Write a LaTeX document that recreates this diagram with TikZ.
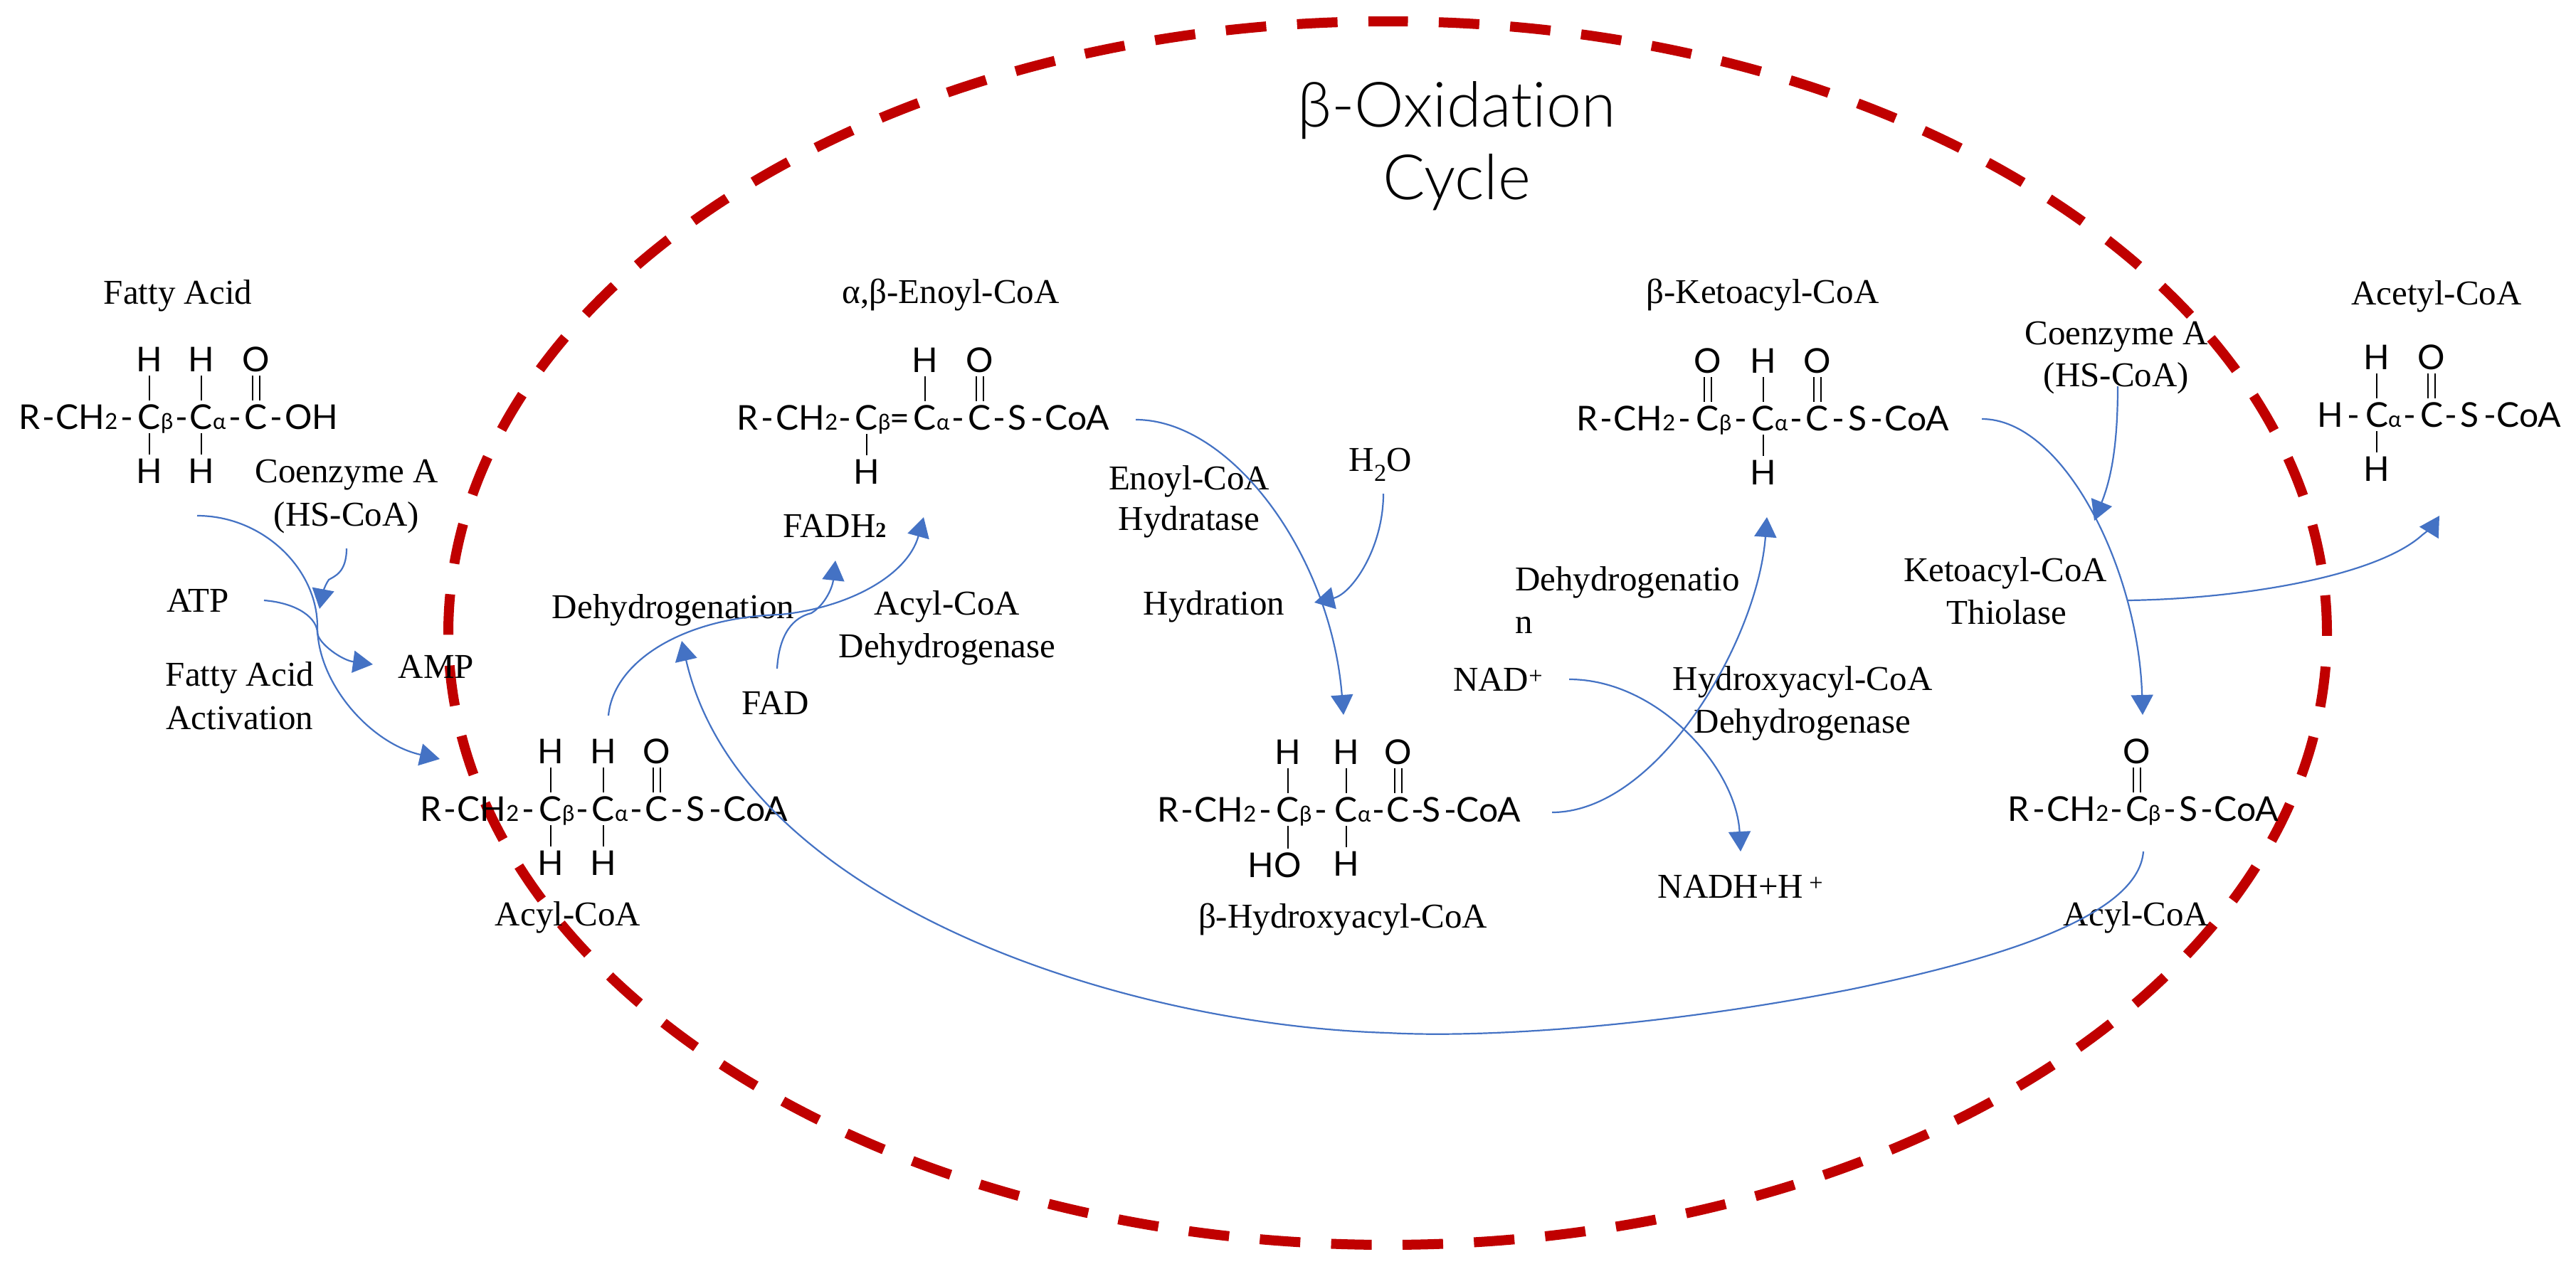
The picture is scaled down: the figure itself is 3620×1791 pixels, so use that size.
\documentclass[tikz,border=0pt]{standalone}
\usepackage{fontspec}
\usetikzlibrary{arrows.meta}
\setmainfont{Liberation Serif}
\newfontfamily\molfam{Lato}
\newfontfamily\titlefam[Ligatures=NoCommon]{Lato Light}
\newcommand{\molf}{\molfam\fontsize{48}{48}\selectfont}
\newcommand{\subf}[1]{{\molfam\fontsize{31}{31}\selectfont #1}}
\newcommand{\catom}[1]{C\smash{\rlap{\subf{#1}}}}
\definecolor{cycred}{HTML}{C00000}
\definecolor{arrblue}{HTML}{4472C4}
\tikzset{
  atom/.style={font=\molf, anchor=base, inner xsep=0pt, inner ysep=6pt, text height=34pt, text depth=0pt},
  bond/.style={line width=2.5pt, black},
  lab/.style={font=\fontsize{49}{49}\selectfont, anchor=base, inner sep=0pt},
  titletext/.style={font=\titlefam\fontsize{88}{88}\selectfont, anchor=base, inner sep=0pt},
  flow/.style={line width=2.2pt, arrblue, -{Triangle[length=28pt,width=31pt]}},
  cycle/.style={line width=14pt, cycred, dash pattern=on 57pt off 43.4pt, dash phase=28.5pt},
}
\newcommand{\tok}[3]{\node[atom] (#1) at (#2,0) {#3};}
\newcommand{\up}[3]{\node[atom] (#1) at (#2,-81) {#3};}
\newcommand{\down}[3]{\node[atom] (#1) at (#2,76) {#3};}
\newcommand{\sbond}[2]{\draw[bond] (#1.south) -- (#2.north);}
\newcommand{\dbond}[2]{\draw[bond] ([xshift=-5pt]#1.south) -- ([xshift=-5pt]#2.north); \draw[bond] ([xshift=5pt]#1.south) -- ([xshift=5pt]#2.north);}
\newcommand{\chainhead}{\tok{r}{0}{R}\tok{d1}{26}{-}\tok{ch}{80}{CH\subf{2}}\tok{d2}{136}{-}}
\begin{document}
\begin{tikzpicture}[x=1pt,y=-1pt]
\useasboundingbox (0,0) rectangle (3620,1791);
\fill[white] (0,0) rectangle (3620,1791);
% cycle
\draw[cycle] (1950,30) arc[start angle=-90,end angle=270,x radius=1320,y radius=860];
% title
\node[titletext] (t1) at (2047,178) {β-Oxidation};
\node[titletext] (t2) at (2047,280) {Cycle};
% M1 fatty acid
\begin{scope}[shift={(42,603)},name prefix=ma-]
\chainhead
\tok{cb}{168}{\catom{β}}\tok{d3}{213}{-}\tok{ca}{241}{\catom{α}}\tok{d4}{288}{-}\tok{c}{318}{C}\tok{d5}{346}{-}\tok{oh}{396}{OH}
\up{h1}{168}{H}\up{h2}{241}{H}\up{o}{318}{O}\down{h3}{168}{H}\down{h4}{241}{H}
\sbond{h1}{cb}\sbond{h2}{ca}\dbond{o}{c}\sbond{cb}{h3}\sbond{ca}{h4}
\end{scope}
% M2 enoyl
\begin{scope}[shift={(1051,604)},name prefix=mb-]
\tok{r}{0}{R}\tok{d1}{27}{-}\tok{ch}{83}{CH\subf{2}}\tok{d2}{136}{-}
\tok{cb}{167}{\catom{β}}\tok{d3}{213}{=}\tok{ca}{249}{\catom{α}}\tok{d4}{295}{-}\tok{c}{326}{C}\tok{d5}{353}{-}\tok{s}{379}{S}\tok{d6}{406}{-}\tok{coa}{463}{CoA}
\up{h1}{249}{H}\up{o}{326}{O}\down{h3}{167}{H}
\sbond{h1}{ca}\dbond{o}{c}\sbond{cb}{h3}
\end{scope}
% M3 acyl-CoA
\begin{scope}[shift={(606,1154)},name prefix=mc-]
\chainhead
\tok{cb}{168}{\catom{β}}\tok{d3}{212}{-}\tok{ca}{242}{\catom{α}}\tok{d4}{288}{-}\tok{c}{317}{C}\tok{d5}{345}{-}\tok{s}{372}{S}\tok{d6}{399}{-}\tok{coa}{456}{CoA}
\up{h1}{168}{H}\up{h2}{242}{H}\up{o}{317}{O}\down{h3}{168}{H}\down{h4}{242}{H}
\sbond{h1}{cb}\sbond{h2}{ca}\dbond{o}{c}\sbond{cb}{h3}\sbond{ca}{h4}
\end{scope}
% M4 hydroxy
\begin{scope}[shift={(1642,1155)},name prefix=md-]
\chainhead
\tok{cb}{168}{\catom{β}}\tok{d3}{214}{-}\tok{ca}{250}{\catom{α}}\tok{d4}{295}{-}\tok{c}{323}{C}\tok{d5}{350}{-}\tok{s}{369}{S}\tok{d6}{396}{-}\tok{coa}{450}{CoA}
\up{h1}{168}{H}\up{h2}{250}{H}\up{o}{323}{O}\node[atom] (ho) at (149,78) {HO};\down{h4}{250}{H}
\sbond{h1}{cb}\sbond{h2}{ca}\dbond{o}{c}\draw[bond] (cb.south) -- (cb.south |- ho.north);\sbond{ca}{h4}
\end{scope}
% M5 keto
\begin{scope}[shift={(2231,605)},name prefix=me-]
\chainhead
\tok{cb}{169}{\catom{β}}\tok{d3}{215}{-}\tok{ca}{247}{\catom{α}}\tok{d4}{293}{-}\tok{c}{323}{C}\tok{d5}{352}{-}\tok{s}{379}{S}\tok{d6}{406}{-}\tok{coa}{463}{CoA}
\up{o1}{169}{O}\up{h2}{247}{H}\up{o}{323}{O}\down{h4}{247}{H}
\dbond{o1}{cb}\sbond{h2}{ca}\dbond{o}{c}\sbond{ca}{h4}
\end{scope}
% M6 acetyl
\begin{scope}[shift={(3275,600)},name prefix=mf-]
\tok{h0}{0}{H}\tok{d1}{32}{-}\tok{ca}{65}{\catom{α}}\tok{d2}{111}{-}\tok{c}{142}{C}\tok{d3}{169}{-}\tok{s}{195}{S}\tok{d4}{224}{-}\tok{coa}{279}{CoA}
\up{h1}{65}{H}\up{o}{142}{O}\down{h2}{65}{H}
\sbond{h1}{ca}\dbond{o}{c}\sbond{ca}{h2}
\end{scope}
% M7 acyl-CoA short
\begin{scope}[shift={(2837,1154)},name prefix=mg-]
\tok{r}{0}{R}\tok{d1}{28}{-}\tok{ch}{83}{CH\subf{2}}\tok{d2}{137}{-}\tok{cb}{166}{\catom{β}}\tok{d3}{212}{-}\tok{s}{238}{S}\tok{d4}{264}{-}\tok{coa}{320}{CoA}
\up{o}{166}{O}
\dbond{o}{cb}
\end{scope}
% labels
\node[lab] (l1) at (250,427) {Fatty Acid};
\node[lab] (l2) at (487,678) {Coenzyme A};
\node[lab] (l3) at (487,739) {(HS-CoA)};
\node[lab] (l4) at (278,860) {ATP};
\node[lab] (l5) at (337,964) {Fatty Acid};
\node[lab] (l6) at (337,1025) {Activation};
\node[lab] (l7) at (613,953) {AMP};
\node[lab] (l8) at (946,869) {Dehydrogenation};
\node[lab] (l9) at (1173,755) {FADH{\fontsize{30}{30}\selectfont\bfseries 2}};
\node[lab] (l10) at (1090,1004) {FAD};
\node[lab] (l11) at (1331,864) {Acyl-CoA};
\node[lab] (l12) at (1331,924) {Dehydrogenase};
\node[lab] (l13) at (1336,426) {α,β-Enoyl-CoA};
\node[lab] (l14) at (798,1301) {Acyl-CoA};
\node[lab] (l15) at (2477,426) {β-Ketoacyl-CoA};
\node[lab] (l16) at (1671,688) {Enoyl-CoA};
\node[lab] (l17) at (1671,745) {Hydratase};
\node[lab] (l18) at (1940,662) {H\textsubscript{2}O};
\node[lab] (l19) at (1706,864) {Hydration};
\node[lab,anchor=base west] (l20) at (2129,830) {Dehydrogenatio};
\node[lab,anchor=base west] (l21) at (2129,890) {n};
\node[lab,anchor=base west] (l22) at (2042,971) {NAD\textsuperscript{+}};
\node[lab] (l23) at (2533,970) {Hydroxyacyl-CoA};
\node[lab] (l24) at (2533,1030) {Dehydrogenase};
\node[lab] (l25) at (2446,1262) {NADH+H\,\textsuperscript{+}};
\node[lab] (l26) at (1887,1304) {β-Hydroxyacyl-CoA};
\node[lab] (l27) at (2974,484) {Coenzyme A};
\node[lab] (l28) at (2974,543) {(HS-CoA)};
\node[lab] (l29) at (3424,428) {Acetyl-CoA};
\node[lab] (l30) at (2818,817) {Ketoacyl-CoA};
\node[lab] (l31) at (2820,877) {Thiolase};
\node[lab] (l32) at (3002,1301) {Acyl-CoA};
% connector ends
\coordinate (a1s) at (277,725); \coordinate (a1e) at (618,1067);
\coordinate (a2s) at (487,771); \coordinate (a2e) at (449,856);
\coordinate (a3s) at (371,844); \coordinate (a3e) at (524,934);
\coordinate (a4s) at (855,1006); \coordinate (a4e) at (1298,727);
\coordinate (a5s) at (1092,940); \coordinate (a5e) at (1174,788);
\coordinate (a6s) at (3012,1197); \coordinate (a6e) at (958,901);
\coordinate (a7s) at (1596,590); \coordinate (a7e) at (1888,1005);
\coordinate (a8s) at (1944,694); \coordinate (a8e) at (1847,847);
\coordinate (a9s) at (2181,1142); \coordinate (a9e) at (2483,727);
\coordinate (a10s) at (2205,955); \coordinate (a10e) at (2446,1197);
\coordinate (a11s) at (2785,589); \coordinate (a11e) at (3011,1005);
\coordinate (a12s) at (2976,543); \coordinate (a12e) at (2943,732);
\coordinate (a13s) at (2989,844); \coordinate (a13e) at (3428,725);
% connectors
\draw[flow] (a1s) .. controls (370,725) and (446,800) .. (446,881) .. controls (446,960) and (520,1045) .. (a1e);
\draw[flow] (a2s) .. controls (487,805) and (470,810) .. (462,815) .. controls (455,825) and (452,840) .. (a2e);
\draw[flow] (a3s) .. controls (420,848) and (446,870) .. (446,890) .. controls (448,905) and (480,928) .. (a3e);
\draw[flow] (a4s) .. controls (862,930) and (960,868) .. (1096,864) .. controls (1190,855) and (1275,810) .. (a4e);
\draw[flow] (a5s) .. controls (1095,890) and (1115,868) .. (1140,862) .. controls (1160,850) and (1170,825) .. (a5e);
\draw[flow] (a6s) .. controls (3005,1290) and (2800,1350) .. (2600,1391) .. controls (2350,1440) and (2100,1460) .. (1950,1452) .. controls (1560,1440) and (1040,1260) .. (a6e);
\draw[flow] (a7s) .. controls (1730,590) and (1870,780) .. (a7e);
\draw[flow] (a8s) .. controls (1944,770) and (1900,835) .. (a8e);
\draw[flow] (a9s) .. controls (2330,1142) and (2470,900) .. (a9e);
\draw[flow] (a10s) .. controls (2330,955) and (2440,1080) .. (a10e);
\draw[flow] (a11s) .. controls (2900,589) and (3005,800) .. (a11e);
\draw[flow] (a12s) .. controls (2976,620) and (2968,670) .. (a12e);
\draw[flow] (a13s) .. controls (3150,842) and (3340,810) .. (3404,752) .. controls (3412,746) and (3420,738) .. (a13e);
\end{tikzpicture}
\end{document}
